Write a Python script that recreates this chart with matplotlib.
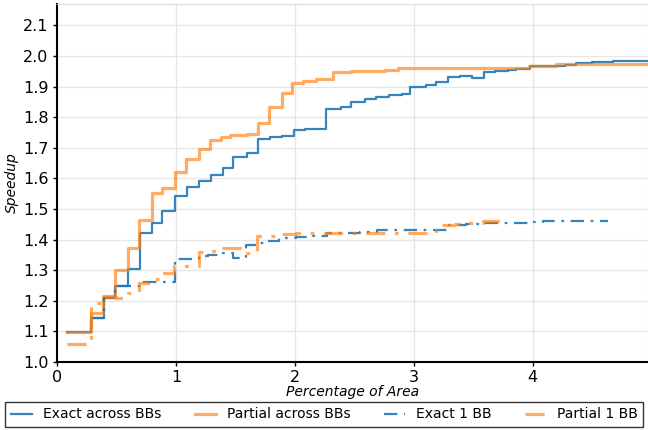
import numpy as np
import matplotlib.pyplot as plt

# step curves: x = left edge of each step, y = value on that step (last x = end)
exact_all_x = [0.08, 0.285, 0.397, 0.487, 0.594, 0.697, 0.796, 0.885, 0.99, 1.09, 1.193, 1.294, 1.392,
               1.482, 1.594, 1.686, 1.79, 1.893, 1.99, 2.084, 2.266, 2.387, 2.476, 2.588, 2.686, 2.79,
               2.905, 2.972, 3.1, 3.19, 3.288, 3.393, 3.493, 3.588, 3.686, 3.793, 3.863, 3.975, 4.087,
               4.27, 4.367, 4.5, 4.675, 4.97]
exact_all_y = [1.098, 1.143, 1.208, 1.249, 1.303, 1.42, 1.455, 1.494, 1.541, 1.571, 1.59, 1.61, 1.633,
               1.671, 1.684, 1.73, 1.734, 1.739, 1.757, 1.762, 1.826, 1.832, 1.851, 1.858, 1.865, 1.871,
               1.876, 1.897, 1.905, 1.914, 1.931, 1.935, 1.927, 1.946, 1.951, 1.954, 1.958, 1.966, 1.968,
               1.971, 1.976, 1.979, 1.984, 1.985]

partial_all_x = [0.08, 0.285, 0.39, 0.487, 0.60, 0.69, 0.795, 0.885, 0.99, 1.084, 1.193, 1.286, 1.378,
                 1.454, 1.594, 1.692, 1.784, 1.893, 1.972, 2.065, 2.18, 2.317, 2.476, 2.588, 2.756, 2.868,
                 2.99, 3.97, 4.2, 4.97]
partial_all_y = [1.098, 1.161, 1.216, 1.30, 1.372, 1.465, 1.551, 1.568, 1.62, 1.662, 1.696, 1.725, 1.736,
                 1.741, 1.745, 1.78, 1.834, 1.880, 1.911, 1.919, 1.925, 1.946, 1.95, 1.952, 1.954, 1.959,
                 1.962, 1.968, 1.972, 1.973]

exact_1bb_x = [0.285, 0.397, 0.487, 0.60, 0.70, 0.99, 1.19, 1.27, 1.40, 1.48, 1.59, 1.68, 1.77,
               1.87, 2.01, 2.15, 2.27, 2.55, 2.69, 2.93, 3.30, 3.44, 3.58, 3.83, 3.96, 4.09, 4.63]
exact_1bb_y = [1.143, 1.208, 1.249, 1.249, 1.26, 1.336, 1.346, 1.35, 1.355, 1.339, 1.382, 1.388,
               1.395, 1.404, 1.41, 1.412, 1.423, 1.426, 1.43, 1.431, 1.448, 1.45, 1.453, 1.455, 1.457,
               1.46, 1.46]

partial_1bb_x = [0.08, 0.285, 0.39, 0.50, 0.60, 0.69, 0.79, 0.885, 0.98, 1.19, 1.27, 1.37, 1.60, 1.68,
                 1.86, 2.01, 3.19, 3.35, 3.44, 3.58, 3.76]
partial_1bb_y = [1.059, 1.194, 1.212, 1.208, 1.224, 1.257, 1.27, 1.292, 1.314, 1.36, 1.364, 1.372, 1.357,
                 1.412, 1.418, 1.42, 1.448, 1.451, 1.455, 1.46, 1.46]

blue = '#1f77b4'
orange = '#ff7f0e'
dashdot = (0, (6, 3, 1.2, 3))

fig = plt.figure(figsize=(6.48, 4.30), dpi=100)
ax = fig.add_axes([0.088, 0.158, 0.912, 0.833])

ax.plot(exact_all_x, exact_all_y, drawstyle='steps-post', color=blue, lw=1.6, alpha=0.9,
        label='Exact across BBs')
ax.plot(partial_all_x, partial_all_y, drawstyle='steps-post', color=orange, lw=2.3, alpha=0.65,
        label='Partial across BBs')
ax.plot(exact_1bb_x, exact_1bb_y, drawstyle='steps-post', color=blue, lw=1.6, alpha=0.9, ls=dashdot,
        label='Exact 1 BB')
ax.plot(partial_1bb_x, partial_1bb_y, drawstyle='steps-post', color=orange, lw=2.3, alpha=0.65, ls=dashdot,
        label='Partial 1 BB')

ax.set_xlim(0, 4.97)
ax.set_ylim(1.0, 2.17)
ax.set_xticks([0, 1, 2, 3, 4])
ax.set_yticks(np.arange(1.0, 2.15, 0.1))
ax.set_yticklabels(['%.1f' % v for v in np.arange(1.0, 2.15, 0.1)])
ax.tick_params(labelsize=11.5, length=3, width=1, pad=3)
ax.grid(True, color='#e6e6e6', linewidth=1)
ax.set_axisbelow(True)

for s in ['top', 'right']:
    ax.spines[s].set_color('#dddddd')
for s in ['left', 'bottom']:
    ax.spines[s].set_linewidth(1.5)

ax.set_xlabel('Percentage of Area', style='italic', fontsize=10, labelpad=0)
ax.set_ylabel('Speedup', style='italic', fontsize=10, labelpad=3)

leg = fig.legend(loc='lower left', bbox_to_anchor=(0.008, 0.007, 0.985, 0.055), mode='expand', ncol=4,
                 fontsize=10, frameon=True, fancybox=False, edgecolor='black', borderaxespad=0,
                 handlelength=1.5)
leg.get_frame().set_linewidth(1)

plt.savefig('out.png', dpi=100)
